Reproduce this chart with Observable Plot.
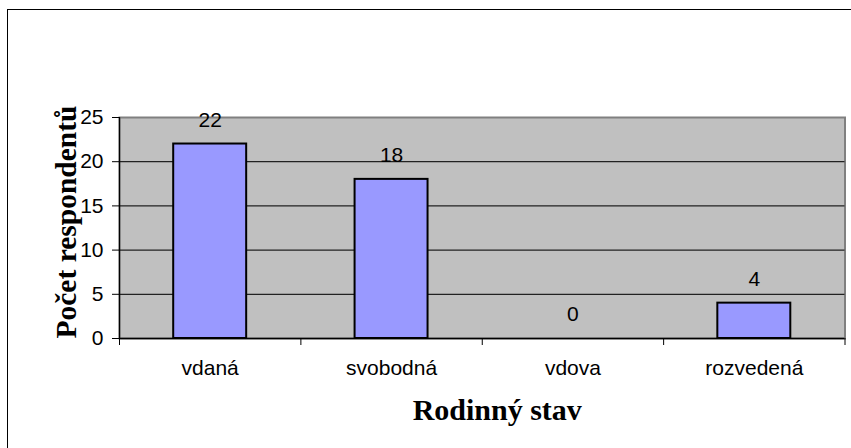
<!DOCTYPE html>
<html>
<head>
<meta charset="utf-8">
<script src="https://cdn.jsdelivr.net/npm/d3@7"></script>
<script src="https://cdn.jsdelivr.net/npm/@observablehq/plot@0.6"></script>
<style>
  html, body { margin: 0; padding: 0; background: #fff; }
  #wrap { position: relative; width: 851px; height: 448px; overflow: hidden; }
  #border { position: absolute; left: 7px; top: 9px; width: 900px; height: 500px;
            border-top: 1.5px solid #000; border-left: 1.5px solid #000; pointer-events: none; }
</style>
</head>
<body>
<div id="wrap"><div id="chart"></div><div id="border"></div></div>
<script>
const categories = ["vdaná", "svobodná", "vdova", "rozvedená"];
const values = [22, 18, 0, 4];
const yTicks = [0, 5, 10, 15, 20, 25];
const gridTicks = [5, 10, 15, 20];
const yLabel = "Počet respondentů";
const xLabel = "Rodinný stav";

const data = categories.map((c, i) => ({cat: c, i, value: values[i]}));
const bounds = d3.range(categories.length + 1);
const centers = categories.map((c, i) => i + 0.5);

const chart = Plot.plot({
  width: 851,
  height: 448,
  marginLeft: 119,
  marginRight: 6.5,
  marginTop: 117,
  marginBottom: 110,
  style: {fontFamily: "'Liberation Sans', Arial, sans-serif", fontSize: "21px", background: "transparent", color: "#000"},
  x: {type: "linear", domain: [0, categories.length]},
  y: {domain: [0, 25]},
  marks: [
    Plot.frame({fill: "#c0c0c0", stroke: "#808080", strokeWidth: 2}),
    Plot.ruleY(gridTicks, {stroke: "#222", strokeWidth: 1.3}),
    Plot.rectY(data, {x1: d => d.i, x2: d => d.i + 1, y: "value", insetLeft: 54.2, insetRight: 54.2,
      fill: "#9999ff", stroke: "#000", strokeWidth: 2}),
    Plot.ruleX([0], {stroke: "#000", strokeWidth: 1.3}),
    Plot.ruleY([0], {stroke: "#000", strokeWidth: 1.5}),
    Plot.axisY({ticks: yTicks, tickSize: 7, tickPadding: 9, label: null, fontSize: 21}),
    Plot.axisX({ticks: bounds, tickSize: 7, tickFormat: () => "", label: null}),
    Plot.axisX({ticks: centers, tickSize: 0, tickPadding: 22, tickFormat: d => categories[Math.round(d - 0.5)], label: null, fontSize: 21}),
    Plot.text(data, {x: d => d.i + 0.5, y: "value", text: d => String(d.value), dy: -24, fontSize: 21, lineAnchor: "middle"}),
    Plot.text([xLabel], {frameAnchor: "bottom", dy: 72, dx: 15, fontFamily: "'Liberation Serif', 'Times New Roman', serif",
      fontWeight: "bold", fontSize: 30, lineAnchor: "middle"}),
    Plot.text([yLabel], {frameAnchor: "left", textAnchor: "middle", rotate: -90, dx: -52.5, dy: -6, fontFamily: "'Liberation Serif', 'Times New Roman', serif",
      fontWeight: "bold", fontSize: 29.5, lineAnchor: "middle"})
  ]
});
document.getElementById("chart").appendChild(chart);
</script>
</body>
</html>
